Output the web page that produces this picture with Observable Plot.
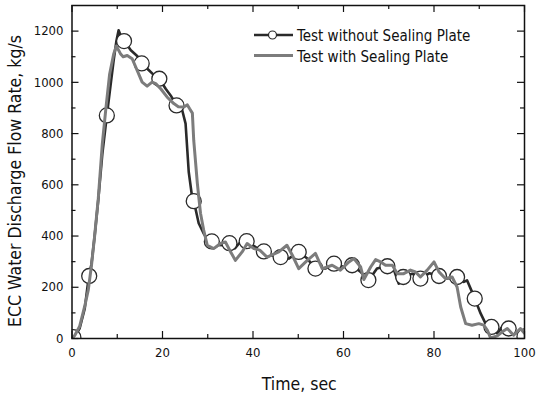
<!DOCTYPE html>
<html><head><meta charset="utf-8">
<script src="https://cdn.jsdelivr.net/npm/d3@7"></script>
<script src="https://cdn.jsdelivr.net/npm/@observablehq/plot@0.6"></script>
<style>
body{margin:0;background:#fff;}
#wrap{position:relative;width:536px;height:395px;}
#wrap svg{display:block;}
#legend{position:absolute;left:0;top:0;pointer-events:none;}
</style></head><body><div id="wrap"></div>
<script>
// Test without Sealing Plate (dark line)
const withoutT = [0,0.6,1.7,2.8,3.7,4.3,5,5.8,6.7,7.7,8.5,9.2,9.8,10.3,10.7,11.1,11.6,13,14.4,15.4,17,18,19.3,20.7,21.8,23.1,24.4,25.1,25.8,26.6,27,28,29.1,30.2,30.9,32,33.5,34.8,36,36.9,38.6,39.5,40.6,42.4,43.9,46.1,47.9,50.1,52,53.8,56,57.9,60.1,61.9,63.8,65.5,67.4,69.7,71,72.2,73.2,75.2,77,79,81.1,82.9,85.1,86.6,87.3,88.4,89,90.3,91.4,92.7,94,95.2,96.5,97.9,99,100];
const withoutV = [0,8,40,115,240,290,400,540,720,870,985,1085,1160,1203,1185,1170,1160,1125,1103,1074,1047,1030,1014,975,949,910,888,839,650,545,530,450,410,380,378,365,364,372,352,371,380,368,357,340,325,318,312,338,312,273,273,293,279,286,260,225,273,283,275,214,242,253,234,255,244,234,240,221,227,182,156,98,58,45,20,50,39,20,25,5];
// Test with Sealing Plate (grey line)
const withT = [0,0.6,1.7,2.8,3.6,4.3,5,5.8,6.7,7.5,8.3,9.2,9.8,10.7,11.3,12.2,13.3,14.4,15.5,16.6,17.7,18.5,19.6,21,22.5,23.5,24.7,25.5,26,26.6,26.9,27.7,28.4,29.1,29.9,31.3,32.8,33.9,35,36.1,37.6,38.7,40.2,41.5,43.1,45.7,47.5,48.7,50.1,52,53.8,55.3,57.5,59.3,61.2,62.3,63.8,64.5,66,67.1,68.2,69.3,70.8,71.9,73.3,74.8,75.9,77,78.5,80,81.1,82.5,84,85.1,85.9,87,88.4,89.9,91,91.8,92.5,94,95,96.2,97.6,99.1,100];
const withV = [0,12,48,125,190,285,400,545,760,900,1030,1110,1142,1112,1100,1105,1092,1047,1001,985,1001,995,975,943,917,905,904,912,897,880,774,606,489,423,364,351,371,377,340,305,338,371,351,345,318,338,364,325,273,305,332,273,286,267,299,312,279,230,279,308,299,286,286,253,253,267,260,240,267,299,260,234,240,201,123,58,52,58,52,32,2,10,25,39,13,39,20];
// circle markers on the "without" series
const markT = [0.3,3.8,7.7,11.5,15.4,19.3,23.1,26.9,30.9,34.8,38.6,42.4,46.1,50.1,53.8,57.9,61.9,65.5,69.7,73.2,77,81.1,85.1,89,92.7,96.5,100];
const markV = [5,244,871,1161,1074,1014,910,536,379,372,380,340,318,338,273,292,286,228,282,240,234,244,240,156,45,39,8];
// axis ticks
const xMajor = [0,20,40,60,80,100];
const xMinor = [10,30,50,70,90];
const yMajor = [0,200,400,600,800,1000,1200];
const yMinor = [100,300,500,700,900,1100];
const seriesNames = ["Test without Sealing Plate","Test with Sealing Plate"];
const xTitle = "Time, sec";
const yTitle = "ECC Water Discharge Flow Rate, kg/s";

const FONT = '"DejaVu Sans Condensed","DejaVu Sans",sans-serif';
const W = 536, H = 395, mL = 71.5, mR = 12, mT = 5, mB = 57;
const innerW = W - mL - mR, innerH = H - mT - mB;
const DARK = "#2a2a2a", GREY = "#7c7c7c";

const without = withoutT.map((t,i)=>({t, v: withoutV[i]}));
const withP = withT.map((t,i)=>({t, v: withV[i]}));
const marks = markT.map((t,i)=>({t, v: markV[i]}));

const chart = Plot.plot({
  width: W, height: H,
  marginLeft: mL, marginRight: mR, marginTop: mT, marginBottom: mB,
  style: {fontFamily: FONT, background: "#fff", color: "#111"},
  x: {domain: [0,100]},
  y: {domain: [0,1300]},
  marks: [
    Plot.line(without, {x:"t", y:"v", stroke: DARK, strokeWidth: 2.6, clip: true}),
    Plot.dot(marks, {x:"t", y:"v", r: 7.5, fill:"#fff", stroke: DARK, strokeWidth: 1.3, clip: true}),
    Plot.line(withP, {x:"t", y:"v", stroke: GREY, strokeWidth: 3, clip: true}),
    // inward ticks, bottom & top
    Plot.tickX(xMajor, {x: d=>d, insetTop: innerH-7, stroke:"#111", strokeWidth:1.2}),
    Plot.tickX(xMinor, {x: d=>d, insetTop: innerH-4, stroke:"#111", strokeWidth:1.2}),
    Plot.tickX(xMajor, {x: d=>d, insetBottom: innerH-7, stroke:"#111", strokeWidth:1.2}),
    Plot.tickX(xMinor, {x: d=>d, insetBottom: innerH-4, stroke:"#111", strokeWidth:1.2}),
    // inward ticks, left & right
    Plot.tickY(yMajor, {y: d=>d, insetRight: innerW-7, stroke:"#111", strokeWidth:1.2}),
    Plot.tickY(yMinor, {y: d=>d, insetRight: innerW-4, stroke:"#111", strokeWidth:1.2}),
    Plot.tickY(yMajor, {y: d=>d, insetLeft: innerW-7, stroke:"#111", strokeWidth:1.2}),
    Plot.tickY(yMinor, {y: d=>d, insetLeft: innerW-4, stroke:"#111", strokeWidth:1.2}),
    Plot.axisX(xMajor, {tickSize: 0, tickPadding: 9, fontSize: 13, label: null, fill:"#111", tickFormat: d => String(d)}),
    Plot.axisY(yMajor, {tickSize: 0, tickPadding: 8.5, fontSize: 13, label: null, fill:"#111", tickFormat: d => String(d)}),
    Plot.frame({stroke:"#111", strokeWidth: 1.5}),
    Plot.text([xTitle], {frameAnchor:"bottom", text: d=>d, dy: 51, dx: 1, lineAnchor:"bottom", fontSize: 17.5, fill:"#111"}),
    Plot.text([yTitle], {frameAnchor:"left", textAnchor:"middle", text: d=>d, rotate: -90, dx: -57, dy: 9, lineAnchor:"middle", fontSize: 17.5, fill:"#111"})
  ]
});
const wrap = document.getElementById("wrap");
wrap.appendChild(chart);

// legend overlay
const leg = d3.select(wrap).append("svg").attr("id","legend").attr("width", W).attr("height", H);
const rows = [
  {name: seriesNames[0], color: DARK, sw: 2.6, marker: true, y: 35},
  {name: seriesNames[1], color: GREY, sw: 3, marker: false, y: 55.5}
];
rows.forEach(r => {
  leg.append("line").attr("x1",254).attr("x2",293).attr("y1",r.y).attr("y2",r.y)
    .attr("stroke", r.color).attr("stroke-width", r.sw);
  if (r.marker) leg.append("circle").attr("cx",272.5).attr("cy",r.y).attr("r",4)
    .attr("fill","#fff").attr("stroke",r.color).attr("stroke-width",1.2);
  leg.append("text").attr("x",297).attr("y",r.y+6.3).attr("font-family",FONT)
    .attr("font-size",15).attr("fill","#111").text(r.name);
});
</script></body></html>
